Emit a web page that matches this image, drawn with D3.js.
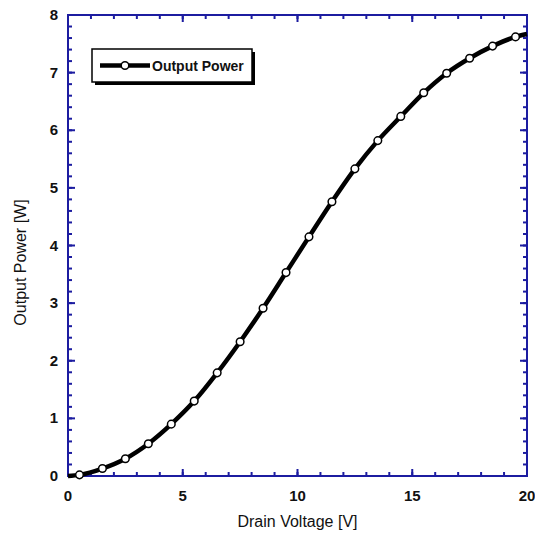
<!DOCTYPE html>
<html lang="en">
<head>
<meta charset="utf-8" />
<title>Output Power vs Drain Voltage</title>
<style>
  body { margin: 0; background: #fff; }
  .ticklbl { font: bold 15px "Liberation Sans", Arial, sans-serif; fill: #111; }
  .title { font: 16px "Liberation Sans", Arial, sans-serif; fill: #111; }
  .leg { font: bold 14px "Liberation Sans", Arial, sans-serif; fill: #111; }
</style>
</head>
<body>
<div id="chart"></div>
<script src="https://d3js.org/d3.v7.min.js"></script>
<script>
// data
var voltage = [0.5, 1.5, 2.5, 3.5, 4.5, 5.5, 6.5, 7.5, 8.5, 9.5,
               10.5, 11.5, 12.5, 13.5, 14.5, 15.5, 16.5, 17.5, 18.5, 19.5];
var power = [0.02, 0.13, 0.30, 0.56, 0.90, 1.30, 1.79, 2.33, 2.91, 3.53,
             4.15, 4.76, 5.33, 5.82, 6.24, 6.65, 6.99, 7.25, 7.46, 7.62];
// line runs to the frame edges
var lineStart = [0, 0];
var lineEnd = [20, 7.67];
var xTicks = [0, 5, 10, 15, 20];
var yTicks = [0, 1, 2, 3, 4, 5, 6, 7, 8];
var seriesName = "Output Power";

var width = 535, height = 537;
var margin = {top: 15, right: 8, bottom: 61, left: 68};
var w = width - margin.left - margin.right,
    h = height - margin.top - margin.bottom;
var axisColor = "#1c1ca0";

var svg = d3.select("#chart").append("svg")
    .attr("width", width).attr("height", height);
var g = svg.append("g")
    .attr("transform", "translate(" + margin.left + "," + margin.top + ")");

var x = d3.scaleLinear().domain([0, 20]).range([0, w]);
var y = d3.scaleLinear().domain([0, 8]).range([h, 0]);

var xMinor = d3.range(0, 20.001, 1);
var yMinor = d3.range(0, 8.001, 0.2);

// ticks on all four sides, pointing inward
function ticks(sel, vals, len, side) {
  sel.selectAll(null).data(vals).enter().append("line")
    .attr("stroke", axisColor)
    .attr("stroke-width", 2)
    .attr("x1", function(d) { return side == "b" || side == "t" ? x(d) : (side == "l" ? 0 : w); })
    .attr("x2", function(d) { return side == "b" || side == "t" ? x(d) : (side == "l" ? len : w - len); })
    .attr("y1", function(d) { return side == "l" || side == "r" ? y(d) : (side == "b" ? h : 0); })
    .attr("y2", function(d) { return side == "l" || side == "r" ? y(d) : (side == "b" ? h - len : len); });
}
var tg = g.append("g");
ticks(tg, xMinor, 4, "b"); ticks(tg, xMinor, 4, "t");
ticks(tg, xTicks, 7, "b"); ticks(tg, xTicks, 7, "t");
ticks(tg, yMinor, 4, "l"); ticks(tg, yMinor, 4, "r");
ticks(tg, yTicks, 7, "l"); ticks(tg, yTicks, 7, "r");

g.append("rect")
  .attr("width", w).attr("height", h)
  .attr("fill", "none")
  .attr("stroke", axisColor)
  .attr("stroke-width", 2);

// tick labels
g.selectAll(".xl").data(xTicks).enter().append("text")
  .attr("class", "ticklbl")
  .attr("x", function(d) { return x(d); })
  .attr("y", h + 25)
  .attr("text-anchor", "middle")
  .text(function(d) { return d; });
g.selectAll(".yl").data(yTicks).enter().append("text")
  .attr("class", "ticklbl")
  .attr("x", -10)
  .attr("y", function(d) { return y(d) + 5; })
  .attr("text-anchor", "end")
  .text(function(d) { return d; });

// axis titles
g.append("text").attr("class", "title")
  .attr("x", w / 2).attr("y", h + 51)
  .attr("text-anchor", "middle")
  .text("Drain Voltage [V]");
g.append("text").attr("class", "title")
  .attr("transform", "rotate(-90)")
  .attr("x", -h / 2 - 17).attr("y", -42)
  .attr("text-anchor", "middle")
  .text("Output Power [W]");

// series
var pts = voltage.map(function(v, i) { return [v, power[i]]; });
var linePts = [lineStart].concat(pts, [lineEnd]);
var line = d3.line()
  .x(function(d) { return x(d[0]); })
  .y(function(d) { return y(d[1]); })
  .curve(d3.curveMonotoneX);

g.append("path")
  .datum(linePts)
  .attr("fill", "none")
  .attr("stroke", "#000")
  .attr("stroke-width", 4.5)
  .attr("d", line);

g.selectAll(".pt").data(pts).enter().append("circle")
  .attr("cx", function(d) { return x(d[0]); })
  .attr("cy", function(d) { return y(d[1]); })
  .attr("r", 3.8)
  .attr("fill", "#fff")
  .attr("stroke", "#000")
  .attr("stroke-width", 1.5);

// legend
var lg = svg.append("g").attr("transform", "translate(92,49)");
lg.append("rect").attr("x", 3).attr("y", 3)
  .attr("width", 160).attr("height", 33).attr("fill", "#000");
lg.append("rect")
  .attr("width", 160).attr("height", 33)
  .attr("fill", "#fff").attr("stroke", "#000").attr("stroke-width", 1.5);
lg.append("line")
  .attr("x1", 8).attr("x2", 58).attr("y1", 16.5).attr("y2", 16.5)
  .attr("stroke", "#000").attr("stroke-width", 4.5);
lg.append("circle")
  .attr("cx", 33).attr("cy", 16.5).attr("r", 3.8)
  .attr("fill", "#fff").attr("stroke", "#000").attr("stroke-width", 1.5);
lg.append("text").attr("class", "leg")
  .attr("x", 60).attr("y", 21.5)
  .text(seriesName);
</script>
</body>
</html>
